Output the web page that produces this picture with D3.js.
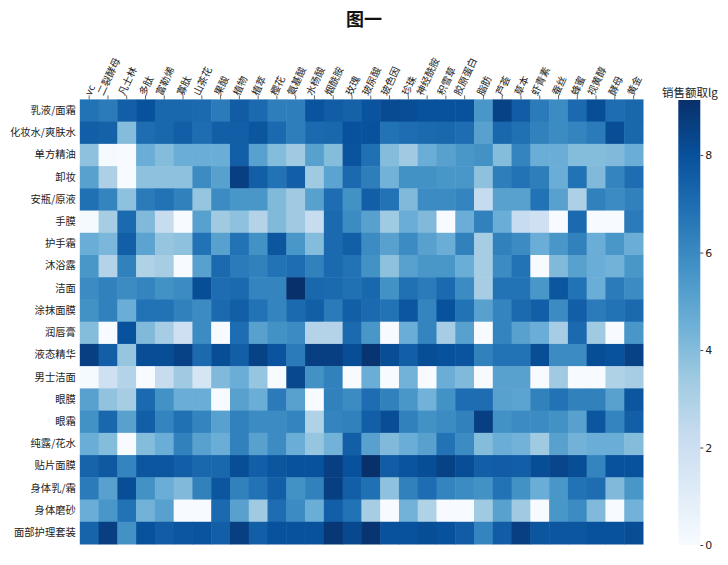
<!DOCTYPE html>
<html><head><meta charset="utf-8">
<script src="https://cdn.jsdelivr.net/npm/d3@7"></script>
<style>body{margin:0;background:#fff}svg{display:block}text{font-family:"Noto Sans CJK SC","DejaVu Sans",sans-serif}</style>
</head><body><svg id="c" width="728" height="565"></svg>
<script>
const title = "图一";
const colorbarTitle = "销售额取lg";
const rows = ["乳液/面霜","化妆水/爽肤水","单方精油","卸妆","安瓶/原液","手膜","护手霜","沐浴露","洁面","涂抹面膜","润唇膏","液态精华","男士洁面","眼膜","眼霜","纯露/花水","贴片面膜","身体乳/霜","身体磨砂","面部护理套装"];
const cols = ["vc","二裂酵母","凡士林","多肽","富勒烯","寡肽","山茶花","果酸","植物","植萃","樱花","氨基酸","水杨酸","烟酰胺","玫瑰","玻尿酸","玻色因","珍珠","神经酰胺","积雪草","胶原蛋白","脂肪","芦荟","草本","虾青素","蚕丝","蜂蜜","视黄醇","酵母","黄金"];
const colorTicks = [0,2,4,6,8];
const vmin = 0, vmax = 9.13;
const values = [
 [6.8,6.5,7.5,8.0,7.2,7.2,7.1,6.5,7.6,7.1,6.4,6.4,7.9,7.6,7.4,7.9,8.2,8.1,8.0,8.0,8.0,5.5,8.5,7.6,6.5,5.9,7.1,8.1,7.0,7.2],
 [7.5,7.4,4.0,7.0,7.2,7.5,7.0,7.5,7.5,7.8,7.1,6.4,7.1,7.2,8.0,8.0,6.8,7.0,7.1,7.2,7.0,5.1,7.2,6.9,6.3,5.9,6.2,6.5,8.1,7.2],
 [3.8,0.1,0,4.6,4.0,4.6,4.6,4.6,7.5,5.1,4.0,3.4,5.1,4.0,7.9,6.9,4.0,3.4,4.6,5.1,5.5,5.7,4.0,6.2,4.6,4.6,4.0,4.0,4.1,4.6],
 [5.1,3.0,0,3.8,3.8,3.8,5.9,5.1,8.6,7.5,6.8,7.5,3.4,5.0,7.1,6.4,4.4,5.7,5.7,5.5,5.5,3.8,6.4,6.8,6.4,4.6,6.8,4.1,6.2,7.0],
 [6.9,6.2,3.8,6.5,6.8,6.3,3.6,5.9,5.5,5.5,4.1,3.4,5.1,7.0,5.7,7.5,6.8,4.1,5.9,5.9,6.2,2.3,5.1,5.1,6.8,5.1,3.0,6.3,5.9,6.3],
 [0.1,3.2,7.1,4.1,2.2,0,5.1,3.4,3.8,2.8,4.1,3.4,2.2,7.1,5.9,5.1,3.4,4.6,4.1,0,4.6,6.3,4.6,2.2,1.9,0,7.1,0,0,6.5],
 [4.6,4.2,7.5,5.0,3.6,3.8,6.8,5.1,6.8,5.7,7.8,5.5,4.0,7.1,7.5,5.9,5.1,5.9,5.1,4.6,6.3,3.2,6.3,5.9,4.6,5.5,6.3,4.6,5.5,4.6],
 [5.5,2.8,6.3,2.9,3.2,0,5.1,7.1,6.5,6.3,6.8,7.0,6.3,7.1,6.8,5.7,3.8,5.1,5.5,5.5,4.6,3.2,5.9,6.8,0,4.1,5.1,4.6,4.4,5.5],
 [5.9,6.3,5.9,6.2,5.7,5.9,8.1,7.0,7.1,6.2,6.2,9.1,7.2,7.1,6.9,7.2,5.7,6.9,6.5,7.1,5.9,3.2,6.8,6.8,5.5,7.8,6.8,4.6,6.5,5.9],
 [5.7,6.3,4.6,6.8,6.8,6.3,5.9,7.1,7.5,6.8,6.2,7.1,7.5,6.5,7.5,7.1,6.8,7.8,6.2,8.0,6.8,5.1,6.2,7.1,7.5,5.9,7.5,6.5,6.8,7.1],
 [4.0,0,8.0,4.1,3.2,1.9,5.9,0,7.0,5.1,5.7,5.9,2.8,2.8,7.1,5.5,0,4.6,6.2,3.2,5.1,0,6.2,5.1,4.6,3.2,7.1,3.4,0,5.5],
 [8.6,7.5,3.6,8.1,8.1,8.5,7.1,8.1,7.5,8.5,7.9,6.5,8.6,8.6,8.1,9.0,8.1,7.5,8.1,8.0,7.9,6.3,6.8,6.8,8.1,5.9,5.9,8.1,8.0,8.5],
 [0.1,1.9,2.8,0,2.2,3.4,1.6,4.1,4.6,3.6,0,8.3,5.7,6.3,0,4.6,0,4.4,0,4.6,4.1,0,5.1,5.1,0,3.4,0,0,2.9,3.2],
 [5.1,3.7,3.2,7.1,5.7,4.6,4.6,0,5.1,4.6,6.5,5.1,0,6.3,5.9,7.0,6.3,5.5,4.4,5.7,7.0,7.0,5.1,5.0,6.3,6.8,6.3,6.3,5.1,7.8],
 [5.7,7.2,5.1,7.5,6.2,6.9,6.2,5.1,6.3,5.9,5.9,6.2,2.9,6.2,6.3,7.5,8.1,6.3,5.7,5.9,6.3,8.6,5.7,5.9,5.9,5.7,5.1,7.8,6.2,7.5],
 [4.6,4.0,0,4.0,4.6,6.3,5.1,4.6,6.3,5.1,5.9,4.6,3.6,4.4,7.5,5.1,4.1,4.6,5.1,6.8,5.9,4.0,4.6,4.4,3.4,5.1,4.4,4.6,4.6,4.0],
 [7.3,7.7,6.2,7.8,7.8,7.5,7.2,7.2,8.1,7.5,7.8,8.0,8.0,8.6,8.0,9.1,7.6,7.9,8.1,8.5,8.1,7.5,7.6,7.5,8.1,8.4,8.1,6.2,8.0,8.0],
 [6.5,5.1,8.1,5.7,4.6,4.1,6.3,7.8,6.3,6.8,7.5,5.7,6.3,8.6,7.5,6.9,3.8,6.3,7.0,6.2,5.9,5.7,6.8,5.7,4.6,5.5,6.8,7.0,4.1,5.5],
 [4.6,5.5,6.8,4.4,5.1,0,0,7.1,5.1,3.4,7.0,5.9,4.6,7.5,6.8,3.2,0,4.4,2.9,0,0,3.4,5.1,3.4,0,5.5,5.9,4.1,0,4.4],
 [7.3,8.6,5.7,8.0,7.6,7.8,7.9,7.5,8.6,7.5,8.0,8.0,8.0,8.9,8.3,9.0,8.0,8.0,8.1,8.0,7.6,6.2,7.6,8.6,7.8,7.8,7.8,8.0,8.0,8.1]
];

const svg = d3.select("#c");
const plot = {left:79.8, right:643, top:99.4, bottom:544};
const x = d3.scaleBand().domain(cols).range([plot.left, plot.right]);
const y = d3.scaleBand().domain(rows).range([plot.top, plot.bottom]);
const blues = d3.schemeBlues[9];
const color = d3.scaleLinear()
  .domain(d3.range(9).map(i => vmin + (vmax - vmin) * i / 8))
  .range(blues).clamp(true);

svg.append("text").attr("x", 364).attr("y", 26).attr("text-anchor", "middle")
  .attr("font-size", 18).attr("font-weight", "bold").attr("fill", "#111").text(title);

const cells = [];
rows.forEach((r, i) => cols.forEach((c, j) => cells.push({r, c, v: values[i][j]})));
svg.append("g").selectAll("rect").data(cells).join("rect")
  .attr("x", d => x(d.c)).attr("y", d => y(d.r))
  .attr("width", x.bandwidth() + 0.5).attr("height", y.bandwidth() + 0.5)
  .attr("fill", d => color(d.v));

const topAxis = svg.append("g").attr("transform", `translate(0,${plot.top})`)
  .call(d3.axisTop(x).tickSize(4).tickFormat(""));
topAxis.select(".domain").remove();
topAxis.selectAll("line").attr("stroke", "#444").attr("stroke-width", 0.8);

const angle = 65, rad = angle * Math.PI / 180;
const colLbl = svg.append("g");
cols.forEach(c => {
  const t = colLbl.append("text").attr("font-size", 10).attr("fill", "#222")
    .attr("text-anchor", "middle").attr("dominant-baseline", "central").text(c);
  const L = t.node().getComputedTextLength();
  const h = 10;
  const vext = L * Math.sin(rad) + h * Math.cos(rad);
  const cx = x(c) + x.bandwidth() / 2, cy = plot.top - 3 - vext / 2;
  t.attr("transform", `translate(${cx},${cy}) rotate(${-angle})`);
});

const leftAxis = svg.append("g").attr("transform", `translate(${plot.left},0)`)
  .call(d3.axisLeft(y).tickSize(0).tickPadding(4));
leftAxis.select(".domain").remove();
leftAxis.selectAll("text").attr("font-size", 10.3).attr("fill", "#222")
  .style("font-family", '"Noto Sans CJK SC",sans-serif');

const cb = {x: 678.3, w: 22, top: 100, bottom: 545};
const defs = svg.append("defs");
const grad = defs.append("linearGradient").attr("id", "cbg")
  .attr("x1", 0).attr("y1", 1).attr("x2", 0).attr("y2", 0);
blues.forEach((b, i) => grad.append("stop").attr("offset", i / 8).attr("stop-color", b));
svg.append("rect").attr("x", cb.x).attr("y", cb.top).attr("width", cb.w)
  .attr("height", cb.bottom - cb.top).attr("fill", "url(#cbg)");
const cy = d3.scaleLinear().domain([vmin, vmax]).range([cb.bottom, cb.top]);
const cbAxis = svg.append("g").attr("transform", `translate(${cb.x + cb.w},0)`)
  .call(d3.axisRight(cy).tickValues(colorTicks).tickSize(3).tickPadding(2).tickFormat(d3.format("d")));
cbAxis.select(".domain").remove();
cbAxis.selectAll("line").attr("stroke", "#444");
cbAxis.selectAll("text").attr("font-size", 11).attr("fill", "#222")
  .style("font-family", '"DejaVu Sans",sans-serif');
svg.append("text").attr("x", 690).attr("y", 97).attr("text-anchor", "middle")
  .attr("font-size", 11.5).attr("fill", "#222").text(colorbarTitle);
</script></body></html>
